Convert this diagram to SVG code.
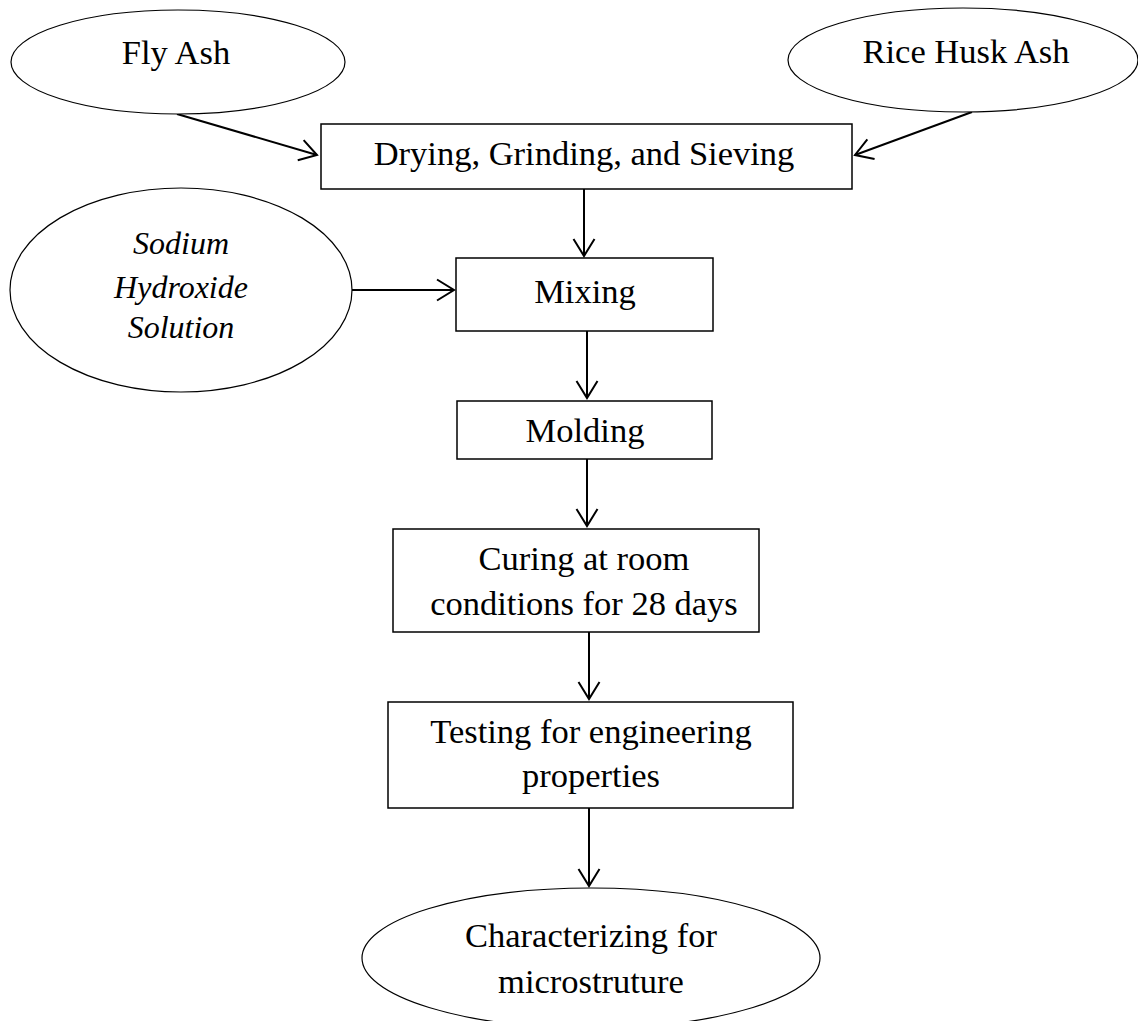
<svg xmlns="http://www.w3.org/2000/svg" width="1138" height="1021" viewBox="0 0 1138 1021">
<style>
.box{fill:#fff;stroke:#000;stroke-width:1.5}
.ell{fill:#fff;stroke:#000;stroke-width:1.2}
.t{font-family:"Liberation Serif","Times New Roman",serif;font-size:34.5px;fill:#000;text-anchor:middle}
.it{font-family:"Liberation Serif","Times New Roman",serif;font-size:32px;font-style:italic;fill:#000;text-anchor:middle}
.c{stroke:#000;stroke-width:2;fill:none;marker-end:url(#ah)}
</style>
<defs>
<marker id="ah" markerUnits="userSpaceOnUse" markerWidth="40" markerHeight="40" refX="0" refY="0" viewBox="-20 -20 40 40" orient="auto" overflow="visible">
<path d="M-17,-10.5 L0,0 L-17,10.5" fill="none" stroke="#000" stroke-width="2"/>
</marker>
</defs>
<rect width="1138" height="1021" fill="#fff"/>
<g id="connectors">
<line class="c" x1="177" y1="114" x2="317" y2="155"/>
<line class="c" x1="972" y1="112" x2="855" y2="155"/>
<line class="c" x1="584" y1="189" x2="584" y2="256"/>
<line class="c" x1="352" y1="290" x2="454" y2="290"/>
<line class="c" x1="587" y1="331" x2="587" y2="398"/>
<line class="c" x1="587" y1="459" x2="587" y2="526"/>
<line class="c" x1="589" y1="632" x2="589" y2="699"/>
<line class="c" x1="589" y1="808" x2="589" y2="886"/>
</g>
<g id="fly-ash">
<ellipse class="ell" cx="178" cy="62" rx="167" ry="52"/>
<text class="t" x="176" y="64">Fly Ash</text>
</g>
<g id="rice-husk-ash">
<ellipse class="ell" cx="963" cy="60" rx="175" ry="52"/>
<text class="t" x="966" y="63">Rice Husk Ash</text>
</g>
<g id="drying">
<rect class="box" x="321" y="124" width="531" height="65"/>
<text class="t" x="584" y="165">Drying, Grinding, and Sieving</text>
</g>
<g id="sodium-hydroxide">
<ellipse class="ell" cx="181" cy="290" rx="171" ry="102"/>
<text class="it" x="181" y="254">Sodium</text>
<text class="it" x="181" y="298">Hydroxide</text>
<text class="it" x="181" y="338">Solution</text>
</g>
<g id="mixing">
<rect class="box" x="456" y="258" width="257" height="73"/>
<text class="t" x="585" y="303">Mixing</text>
</g>
<g id="molding">
<rect class="box" x="457" y="401" width="255" height="58"/>
<text class="t" x="585" y="442">Molding</text>
</g>
<g id="curing">
<rect class="box" x="393" y="529" width="366" height="103"/>
<text class="t" x="584" y="570">Curing at room</text>
<text class="t" x="584" y="615">conditions for 28 days</text>
</g>
<g id="testing">
<rect class="box" x="388" y="702" width="405" height="106"/>
<text class="t" x="591" y="743">Testing for engineering</text>
<text class="t" x="591" y="787">properties</text>
</g>
<g id="characterizing">
<ellipse class="ell" cx="591" cy="958" rx="229" ry="70"/>
<text class="t" x="591" y="947">Characterizing for</text>
<text class="t" x="591" y="993">microstruture</text>
</g>
</svg>
